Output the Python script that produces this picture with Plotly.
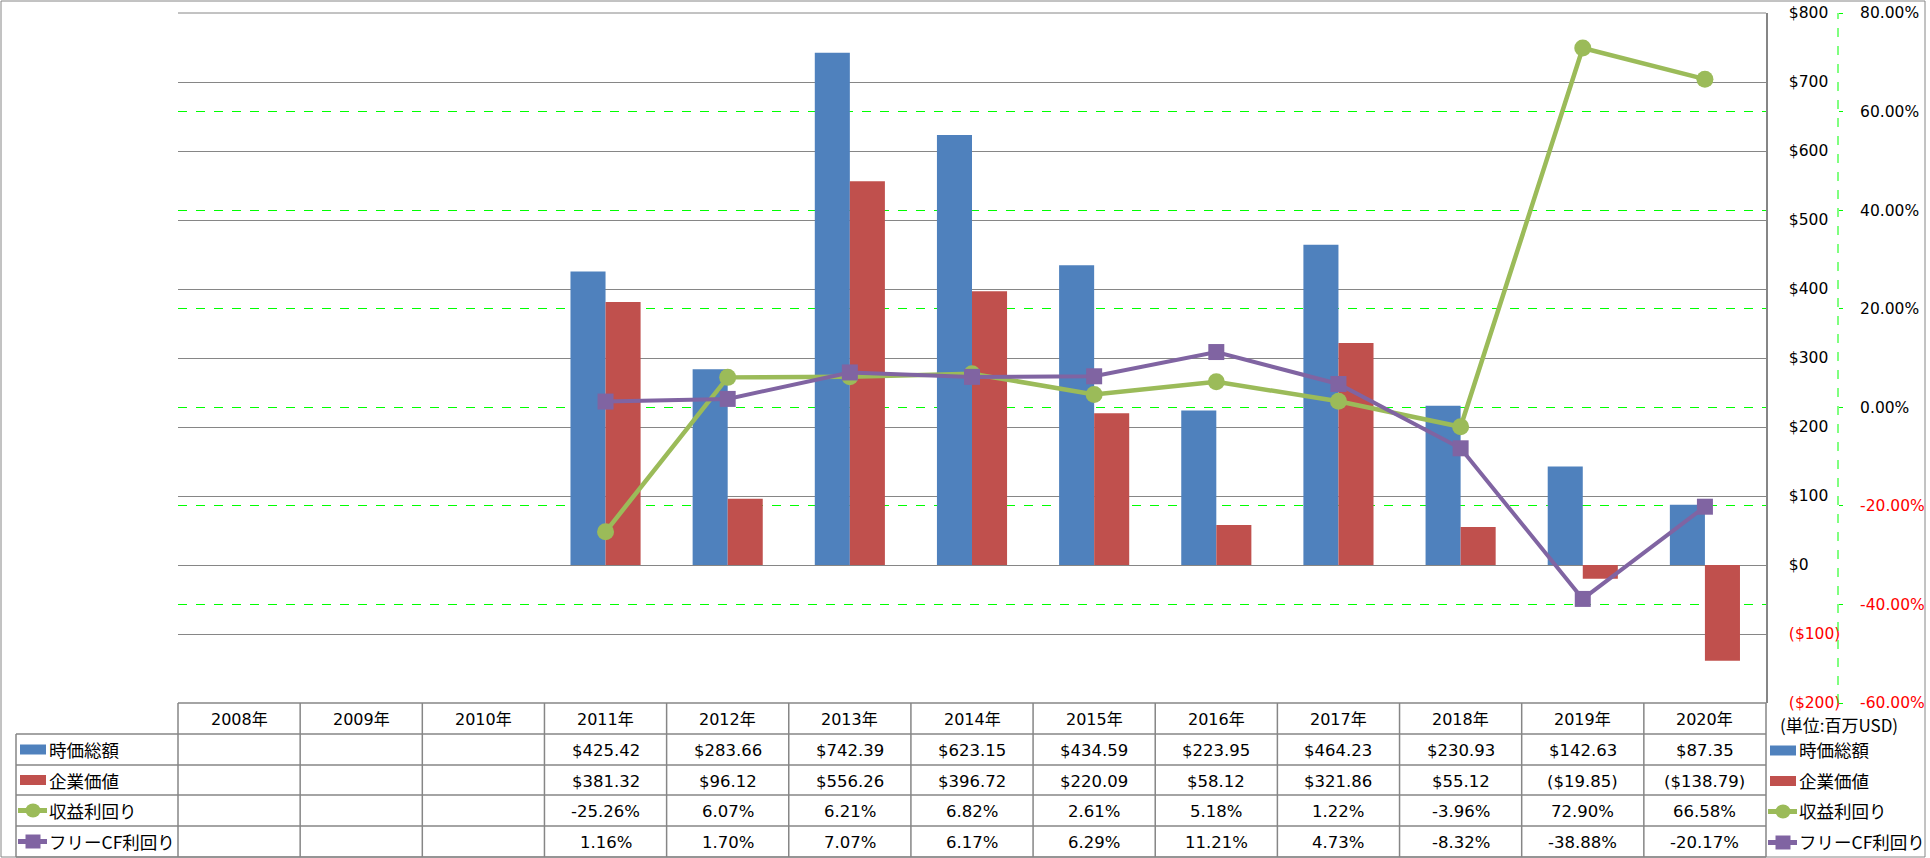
import plotly.graph_objects as go

# ---------------- data ----------------
years = ['2008年', '2009年', '2010年', '2011年', '2012年', '2013年', '2014年',
         '2015年', '2016年', '2017年', '2018年', '2019年', '2020年']
market_cap = [None, None, None, 425.42, 283.66, 742.39, 623.15, 434.59, 223.95,
              464.23, 230.93, 142.63, 87.35]
enterprise_value = [None, None, None, 381.32, 96.12, 556.26, 396.72, 220.09, 58.12,
                    321.86, 55.12, -19.85, -138.79]
earnings_yield = [None, None, None, -25.26, 6.07, 6.21, 6.82, 2.61, 5.18, 1.22,
                  -3.96, 72.90, 66.58]          # percent
fcf_yield = [None, None, None, 1.16, 1.70, 7.07, 6.17, 6.29, 11.21, 4.73,
             -8.32, -38.88, -20.17]              # percent
series_names = ['時価総額', '企業価値', '収益利回り', 'フリーCF利回り']
usd_ticks = [-200, -100, 0, 100, 200, 300, 400, 500, 600, 700, 800]
pct_ticks = [-60, -40, -20, 0, 20, 40, 60, 80]
unit_label = '(単位:百万USD)'

# ---------------- styling / geometry ----------------
BLUE, RED, GREEN, PURPLE = '#4F81BD', '#C0504D', '#9BBB59', '#8064A2'
GRID = '#868686'
LIME = '#00FF00'
NEG = '#FF0000'
NUMFONT = 'DejaVu Sans, Noto Sans CJK JP, sans-serif'
JPFONT = 'Noto Sans CJK JP, sans-serif'

W, H = 1930, 858
PL, PR, AX2 = 178, 1766, 1838      # plot left, plot right, secondary axis x (px)
PT, PB = 13, 703                   # plot top, plot bottom (px)
ML, MR, MT, MB = PL, W - AX2, PT, H - PB
PW, PH = AX2 - PL, PB - PT
DOM = (PR - PL) / PW
N = len(years)
COLW = (PR - PL) / N
ROW_Y = [703, 734, 765, 795, 826, 857]   # table horizontal lines (px)
LABEL_LEFT = 16


def px(x):
    return (x - PL) / PW


def py(y):
    return (PB - y) / PH


def fmt_usd(v):
    if v is None:
        return ''
    return f'${v:,.2f}' if v >= 0 else f'(${-v:,.2f})'


def fmt_pct(v):
    return '' if v is None else f'{v:.2f}%'


def usd_tick(v):
    return f'${v}' if v >= 0 else f'<span style="color:{NEG}">(${-v})</span>'


def pct_tick(v):
    s = f'{v:.2f}%'
    return s if v >= 0 else f'<span style="color:{NEG}">{s}</span>'


fig = go.Figure()
fig.add_trace(go.Bar(x=years, y=market_cap, name=series_names[0], marker_color=BLUE,
                     marker_line_width=0))
fig.add_trace(go.Bar(x=years, y=enterprise_value, name=series_names[1], marker_color=RED,
                     marker_line_width=0))
fig.add_trace(go.Scatter(x=years, y=earnings_yield, name=series_names[2], yaxis='y2',
                         mode='lines+markers', line=dict(color=GREEN, width=4.5),
                         marker=dict(symbol='circle', size=17, color=GREEN)))
fig.add_trace(go.Scatter(x=years, y=fcf_yield, name=series_names[3], yaxis='y2',
                         mode='lines+markers', line=dict(color=PURPLE, width=4),
                         marker=dict(symbol='square', size=16, color=PURPLE)))

shapes = []
annotations = []

# outer chart border
shapes.append(dict(type='rect', xref='paper', yref='paper', x0=px(1), x1=px(1925),
                   y0=py(1), y1=py(857), line=dict(color=GRID, width=1), layer='below'))
# top edge of plot area
shapes.append(dict(type='line', xref='paper', yref='paper', x0=px(PL), x1=px(PR),
                   y0=py(PT), y1=py(PT), line=dict(color=GRID, width=1)))
# secondary axis dashed line
shapes.append(dict(type='line', xref='paper', yref='paper', x0=1, x1=1, y0=0, y1=1,
                   line=dict(color=LIME, width=1, dash='dash')))

# table lines
shapes.append(dict(type='line', xref='paper', yref='paper', x0=px(PL), x1=px(PR),
                   y0=py(ROW_Y[0]), y1=py(ROW_Y[0]), line=dict(color=GRID, width=1.5)))
for yv in ROW_Y[1:]:
    shapes.append(dict(type='line', xref='paper', yref='paper', x0=px(LABEL_LEFT), x1=px(PR),
                       y0=py(yv), y1=py(yv), line=dict(color=GRID, width=1.5)))
shapes.append(dict(type='line', xref='paper', yref='paper', x0=px(LABEL_LEFT), x1=px(LABEL_LEFT),
                   y0=py(ROW_Y[1]), y1=py(ROW_Y[-1]), line=dict(color=GRID, width=1.5)))
for k in range(N + 1):
    xv = PL + COLW * k
    shapes.append(dict(type='line', xref='paper', yref='paper', x0=px(xv), x1=px(xv),
                       y0=py(ROW_Y[0]), y1=py(ROW_Y[-1]), line=dict(color=GRID, width=1.5)))

row_centers = [(ROW_Y[i] + ROW_Y[i + 1]) / 2 for i in range(5)]

# header years
for k, yr in enumerate(years):
    annotations.append(dict(xref='paper', yref='paper', x=px(PL + COLW * (k + 0.5)),
                            y=py(row_centers[0] + 1), text=yr, showarrow=False,
                            xanchor='center', yanchor='middle',
                            font=dict(family=NUMFONT, size=16, color='#000000')))

rows_text = [
    [fmt_usd(v) for v in market_cap],
    [fmt_usd(v) for v in enterprise_value],
    [fmt_pct(v) for v in earnings_yield],
    [fmt_pct(v) for v in fcf_yield],
]
for r, texts in enumerate(rows_text):
    for k, t in enumerate(texts):
        if not t:
            continue
        annotations.append(dict(xref='paper', yref='paper', x=px(PL + COLW * (k + 0.5)),
                                y=py(row_centers[r + 1] + 1), text=t, showarrow=False,
                                xanchor='center', yanchor='middle',
                                font=dict(family=NUMFONT, size=16.5, color='#000000')))


def legend_key(x_left, yc, idx):
    """Draw an Excel-style legend key; x_left is left pixel of key."""
    if idx == 0 or idx == 1:
        col = BLUE if idx == 0 else RED
        shapes.append(dict(type='rect', xref='paper', yref='paper', x0=px(x_left + 2),
                           x1=px(x_left + 28), y0=py(yc - 5), y1=py(yc + 5),
                           fillcolor=col, line=dict(width=0)))
    else:
        col = GREEN if idx == 2 else PURPLE
        shapes.append(dict(type='line', xref='paper', yref='paper', x0=px(x_left),
                           x1=px(x_left + 29), y0=py(yc), y1=py(yc),
                           line=dict(color=col, width=5)))
        cx = x_left + 15
        if idx == 2:
            shapes.append(dict(type='circle', xref='paper', yref='paper', x0=px(cx - 7.5),
                               x1=px(cx + 7.5), y0=py(yc - 7), y1=py(yc + 7),
                               fillcolor=col, line=dict(width=0)))
        else:
            shapes.append(dict(type='rect', xref='paper', yref='paper', x0=px(cx - 7.5),
                               x1=px(cx + 7.5), y0=py(yc - 7), y1=py(yc + 7),
                               fillcolor=col, line=dict(width=0)))


for r, name in enumerate(series_names):
    yc = row_centers[r + 1]
    legend_key(18, yc, r)
    annotations.append(dict(xref='paper', yref='paper', x=px(47), y=py(yc),
                            text=name, showarrow=False, xanchor='left', yanchor='middle',
                            font=dict(family=JPFONT, size=17.5, color='#000000')))
    legend_key(1768, yc + 1, r)
    annotations.append(dict(xref='paper', yref='paper', x=px(1797), y=py(yc),
                            text=name, showarrow=False, xanchor='left', yanchor='middle',
                            font=dict(family=JPFONT, size=17.5, color='#000000')))

annotations.append(dict(xref='paper', yref='paper', x=px(1778), y=py(724),
                        text=unit_label, showarrow=False, xanchor='left', yanchor='middle',
                        font=dict(family=JPFONT, size=17, color='#000000')))

fig.update_layout(
    width=W, height=H, autosize=False,
    margin=dict(l=ML, r=MR, t=MT, b=MB, pad=0, autoexpand=False),
    paper_bgcolor='white', plot_bgcolor='white',
    barmode='group', bargap=0.426, bargroupgap=0,
    showlegend=False,
    xaxis=dict(type='category', domain=[0, DOM], range=[-0.5, N - 0.5],
               showticklabels=False, showgrid=False, zeroline=False, showline=False,
               ticks='', automargin=False),
    yaxis=dict(side='right', anchor='x', range=[-200, 800], tickvals=usd_ticks,
               ticktext=[usd_tick(v) for v in usd_ticks], ticks='',
               showgrid=True, gridcolor=GRID, gridwidth=1,
               zeroline=True, zerolinecolor=GRID, zerolinewidth=1,
               showline=True, linecolor=GRID, linewidth=1.5,
               ticklabelstandoff=18, automargin=False,
               tickfont=dict(family=NUMFONT, size=15.5, color='#000000')),
    yaxis2=dict(overlaying='y', side='right', anchor='free', position=1,
                range=[-60, 80], tickvals=pct_ticks,
                ticktext=[pct_tick(v) for v in pct_ticks],
                ticks='outside', ticklen=4, tickcolor=LIME, tickwidth=1,
                showgrid=True, gridcolor=LIME, gridwidth=1, griddash='dash',
                zeroline=False, showline=False, automargin=False,
                ticklabelstandoff=14,
                tickfont=dict(family=NUMFONT, size=15.5, color='#000000')),
    shapes=shapes,
    annotations=annotations,
)

fig.write_html(
    'out.html',
    config={'displayModeBar': False},
    post_script="document.body.style.margin='0px';document.body.style.padding='0px';"
                "document.documentElement.style.overflow='hidden';",
)
